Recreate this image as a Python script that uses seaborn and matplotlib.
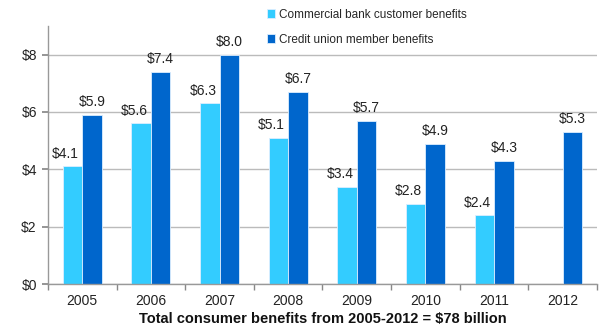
import numpy as np
import pandas as pd
import matplotlib
matplotlib.use("Agg")
import matplotlib.pyplot as plt
import seaborn as sns
from matplotlib.ticker import FixedLocator

years = ["2005", "2006", "2007", "2008", "2009", "2010", "2011", "2012"]
bank = [4.1, 5.6, 6.3, 5.1, 3.4, 2.8, 2.4, np.nan]
cu = [5.9, 7.4, 8.0, 6.7, 5.7, 4.9, 4.3, 5.3]
series = ["Commercial bank customer benefits", "Credit union member benefits"]
yticks = [0, 2, 4, 6, 8]
xlabel = "Total consumer benefits from 2005-2012 = $78 billion"

df = pd.DataFrame({
    "year": years * 2,
    "value": bank + cu,
    "series": [series[0]] * len(years) + [series[1]] * len(years),
})

sns.set_theme(style="white")
plt.rcParams["font.family"] = ["Liberation Sans", "DejaVu Sans"]

fig = plt.figure(figsize=(6.02, 3.28), dpi=100)
ax = fig.add_axes([0.0797, 0.134, 0.912, 0.787])

palette = ["#33CCFF", "#0066CC"]
sns.barplot(data=df, x="year", y="value", hue="series", palette=palette,
            width=0.57, gap=0, ax=ax, saturation=1, edgecolor="#DDEEFF",
            linewidth=0.6, legend=True)

offsets = [-5, 0]
for cont, dx in zip(ax.containers, offsets):
    for rect, v in zip(cont.patches, cont.datavalues):
        if np.isnan(v):
            continue
        ax.annotate(f"${v:.1f}", (rect.get_x() + rect.get_width() / 2, v),
                    xytext=(dx, 4), textcoords="offset points",
                    ha="center", va="bottom", fontsize=10, color="#222222")

ax.set_ylim(0, 9)
ax.set_xlim(-0.5, len(years) - 0.5)
ax.set_yticks(yticks)
ax.set_yticklabels([f"${t}" for t in yticks], fontsize=10, color="#222222")
ax.tick_params(axis="y", left=True, length=4, color="#888888", pad=4)
ax.tick_params(axis="x", which="major", length=0, labelsize=10, labelcolor="#222222", pad=7)
ax.xaxis.set_minor_locator(FixedLocator(np.arange(-0.5, len(years), 1.0)))
ax.tick_params(axis="x", which="minor", bottom=True, length=4, color="#888888")
ax.grid(axis="y", color="#BBBBBB", linewidth=1)
ax.set_axisbelow(True)
for s in ["top", "right"]:
    ax.spines[s].set_visible(False)
for s in ["left", "bottom"]:
    ax.spines[s].set_color("#999999")
    ax.spines[s].set_linewidth(1)

ax.set_ylabel("")
ax.set_xlabel(xlabel, fontsize=10.5, fontweight="bold", color="#111111", labelpad=3)

leg = ax.legend(loc="upper left", bbox_to_anchor=(0.39, 1.085), frameon=False,
                fontsize=8.5, handlelength=0.7, handleheight=0.7, handletextpad=0.3,
                labelspacing=1.1, borderaxespad=0)

fig.savefig("out.png", dpi=100)
